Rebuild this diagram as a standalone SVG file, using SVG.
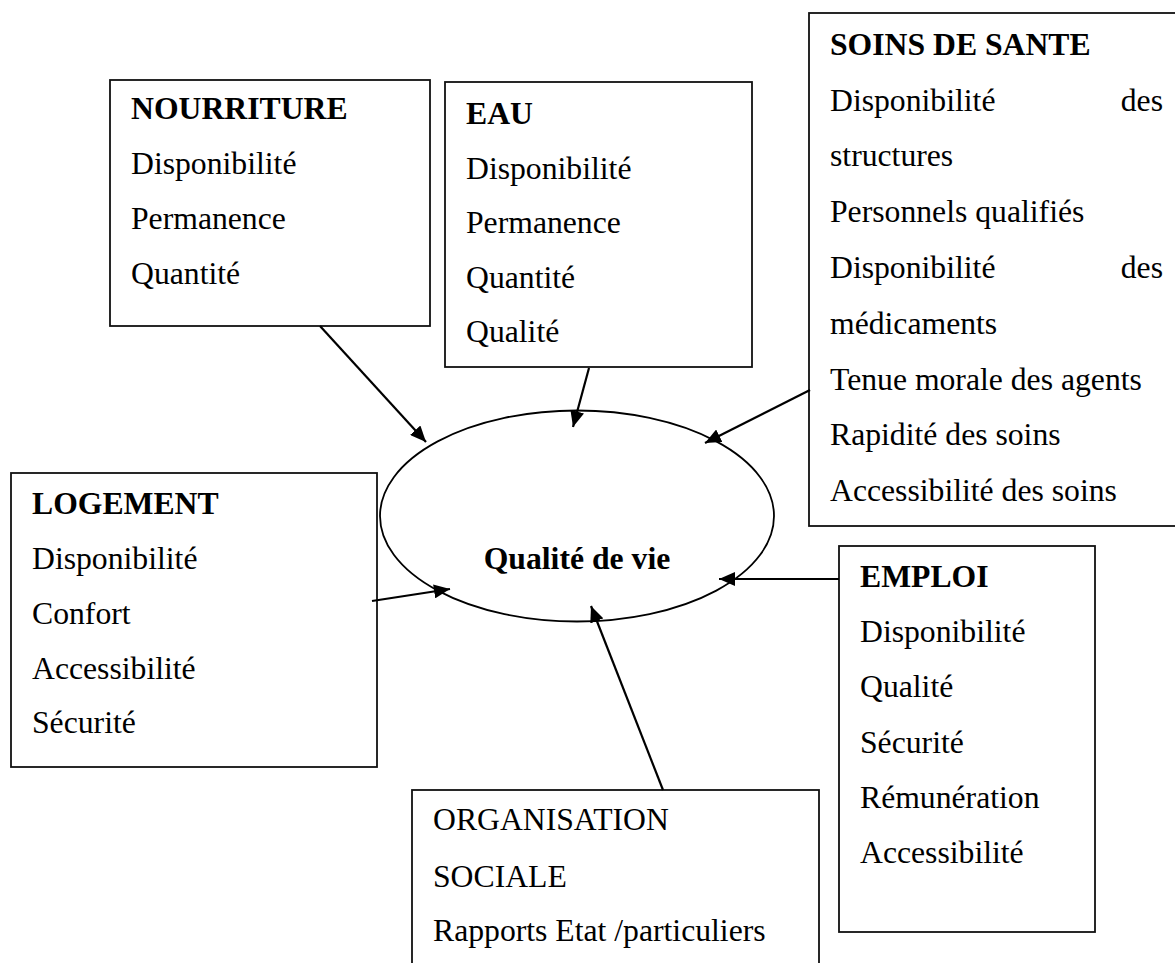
<svg xmlns="http://www.w3.org/2000/svg" width="1175" height="963" viewBox="0 0 1175 963">
<style>
.box{fill:#fff;stroke:#111;stroke-width:1.8}
text{font-family:"Liberation Serif","Times New Roman",serif;font-size:31.7px;fill:#000}
.b{font-weight:bold}
.e{text-anchor:end}
.conn{stroke:#000;stroke-width:2.2;fill:none;marker-end:url(#ah)}
</style>
<defs>
<marker id="ah" markerUnits="userSpaceOnUse" markerWidth="18" markerHeight="14" refX="16" refY="7" orient="auto">
<path d="M0,0 L16,7 L0,14 z" fill="#000"/>
</marker>
</defs>
<rect width="1175" height="963" fill="#fff"/>
<g id="nourriture">
<rect class="box" x="110" y="80" width="320" height="246"/>
<text class="b" x="131" y="119">NOURRITURE</text>
<text x="131" y="174">Disponibilité</text>
<text x="131" y="229">Permanence</text>
<text x="131" y="284">Quantité</text>
</g>
<g id="eau">
<rect class="box" x="445" y="82" width="307" height="285"/>
<text class="b" x="466" y="124">EAU</text>
<text x="466" y="179">Disponibilité</text>
<text x="466" y="233">Permanence</text>
<text x="466" y="288">Quantité</text>
<text x="466" y="342">Qualité</text>
</g>
<g id="soins">
<rect class="box" x="809" y="13" width="370" height="513"/>
<text class="b" x="830" y="55">SOINS DE SANTE</text>
<text x="830" y="111">Disponibilité</text>
<text class="e" x="1163" y="111">des</text>
<text x="830" y="166">structures</text>
<text x="830" y="222">Personnels qualifiés</text>
<text x="830" y="278">Disponibilité</text>
<text class="e" x="1163" y="278">des</text>
<text x="830" y="334">médicaments</text>
<text x="830" y="390">Tenue morale des agents</text>
<text x="830" y="445">Rapidité des soins</text>
<text x="830" y="501">Accessibilité des soins</text>
</g>
<g id="logement">
<rect class="box" x="11" y="473" width="366" height="294"/>
<text class="b" x="32" y="514">LOGEMENT</text>
<text x="32" y="569">Disponibilité</text>
<text x="32" y="624">Confort</text>
<text x="32" y="679">Accessibilité</text>
<text x="32" y="733">Sécurité</text>
</g>
<g id="qualite">
<ellipse cx="577" cy="516" rx="197" ry="105.5" fill="#fff" stroke="#000" stroke-width="1.8"/>
<text class="b" x="577" y="569" text-anchor="middle">Qualité de vie</text>
</g>
<g id="emploi">
<rect class="box" x="839" y="546" width="256" height="386"/>
<text class="b" x="860" y="587">EMPLOI</text>
<text x="860" y="642">Disponibilité</text>
<text x="860" y="697">Qualité</text>
<text x="860" y="753">Sécurité</text>
<text x="860" y="808">Rémunération</text>
<text x="860" y="863">Accessibilité</text>
</g>
<g id="organisation">
<rect class="box" x="412" y="790" width="407" height="190"/>
<text x="433" y="830">ORGANISATION</text>
<text x="433" y="887">SOCIALE</text>
<text x="433" y="941">Rapports Etat /particuliers</text>
</g>
<g id="connectors">
<line class="conn" x1="320" y1="326" x2="426" y2="442"/>
<line class="conn" x1="589" y1="368" x2="573" y2="427"/>
<line class="conn" x1="810" y1="390" x2="705" y2="443"/>
<line class="conn" x1="372" y1="601" x2="450" y2="589"/>
<line class="conn" x1="839" y1="579" x2="719" y2="579"/>
<line class="conn" x1="663" y1="790" x2="591" y2="606"/>
</g>
</svg>
